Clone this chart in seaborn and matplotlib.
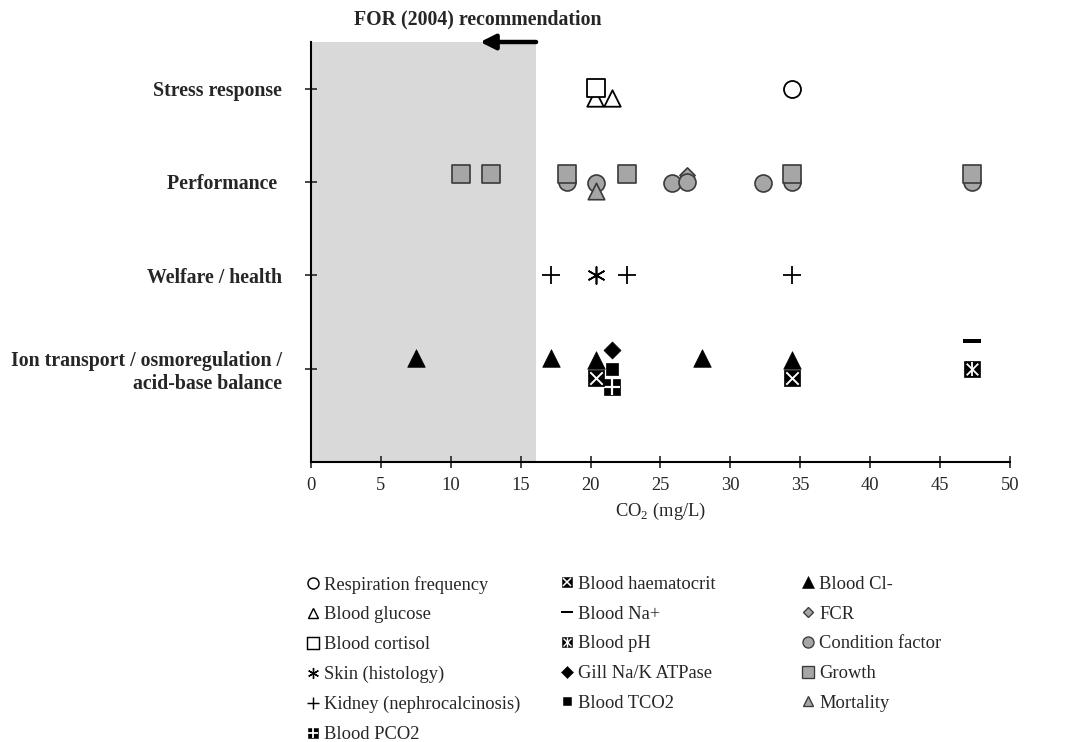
import seaborn as sns
import matplotlib.pyplot as plt
from matplotlib.lines import Line2D
from matplotlib.path import Path

# CO2 level (mg/L, read against the drawn axis) and vertical position
# (category level + small offset)
resp_x, resp_y = [34.4], [4.0]
glucose_x, glucose_y = [20.3, 21.5], [3.9, 3.9]
cortisol_x, cortisol_y = [20.4], [4.01]
skin_x, skin_y = [20.4], [2.0]
kidney_x, kidney_y = [17.2, 22.6, 34.4], [2.0, 2.0, 2.0]
pco2_x, pco2_y = [21.5], [0.8]
haemat_x, haemat_y = [20.4, 34.4], [0.9, 0.9]
na_x, na_y = [47.3], [1.3]
ph_x, ph_y = [47.3], [1.0]
gill_x, gill_y = [21.5], [1.2]
tco2_x, tco2_y = [21.5], [1.0]
cl_x, cl_y = [7.5, 17.2, 20.4, 27.95, 34.4], [1.11, 1.11, 1.09, 1.11, 1.09]
fcr_x, fcr_y = [26.9], [3.08]
cond_x, cond_y = [18.3, 20.4, 25.8, 26.9, 32.3, 34.4, 47.3], [3.0, 2.99, 2.99, 3.0, 2.99, 3.0, 3.0]
growth_x, growth_y = [10.75, 12.9, 18.3, 22.6, 34.4, 47.3], [3.09, 3.09, 3.09, 3.09, 3.09, 3.09]
mort_x, mort_y = [20.4], [2.9]

series_names = ['Respiration frequency', 'Blood glucose', 'Blood cortisol', 'Skin (histology)',
                'Kidney (nephrocalcinosis)', 'Blood PCO2', 'Blood haematocrit', 'Blood Na+',
                'Blood pH', 'Gill Na/K ATPase', 'Blood TCO2', 'Blood Cl-', 'FCR',
                'Condition factor', 'Growth', 'Mortality']
series_x = [resp_x, glucose_x, cortisol_x, skin_x, kidney_x, pco2_x, haemat_x, na_x,
            ph_x, gill_x, tco2_x, cl_x, fcr_x, cond_x, growth_x, mort_x]
series_y = [resp_y, glucose_y, cortisol_y, skin_y, kidney_y, pco2_y, haemat_y, na_y,
            ph_y, gill_y, tco2_y, cl_y, fcr_y, cond_y, growth_y, mort_y]

categories = ['Ion transport / osmoregulation /\nacid-base balance', 'Welfare / health',
              'Performance ', 'Stress response']
cat_levels = [1, 2, 3, 4]
x_ticks = [0, 5, 10, 15, 20, 25, 30, 35, 40, 45, 50]
shade_end = 16.1
arrow_from, arrow_to = 16.1, 12.1

GREY = '#a6a6a6'
EDGE = '#3a3a3a'
bar = Path([(-1, -0.22), (1, -0.22), (1, 0.22), (-1, 0.22), (-1, -0.22)],
           [Path.MOVETO, Path.LINETO, Path.LINETO, Path.LINETO, Path.CLOSEPOLY])
asterisk = (6, 2, 0)

# layers per series: (marker, size, face, edge, lw)
styles = {
    'Respiration frequency': [('o', 150, 'white', 'black', 1.3)],
    'Blood glucose': [('^', 140, 'white', 'black', 1.3)],
    'Blood cortisol': [('s', 160, 'white', 'black', 1.3)],
    'Skin (histology)': [(asterisk, 150, 'black', 'black', 1.2)],
    'Kidney (nephrocalcinosis)': [('+', 150, 'black', 'black', 1.3)],
    'Blood PCO2': [('s', 130, 'black', 'black', 0.5), ('+', 130, 'white', 'white', 1.6)],
    'Blood haematocrit': [('s', 130, 'black', 'black', 0.5), ('x', 80, 'white', 'white', 1.4)],
    'Blood Na+': [(bar, 170, 'black', 'black', 0)],
    'Blood pH': [('s', 130, 'black', 'black', 0.5), ('x', 70, 'white', 'white', 1.3),
                 ('|', 100, 'white', 'white', 1.3)],
    'Gill Na/K ATPase': [('D', 75, 'black', 'black', 0.5)],
    'Blood TCO2': [('s', 64, 'black', 'black', 0.5)],
    'Blood Cl-': [('^', 160, 'black', 'black', 0.5)],
    'FCR': [('D', 60, GREY, EDGE, 1.2)],
    'Condition factor': [('o', 150, GREY, EDGE, 1.2)],
    'Growth': [('s', 160, GREY, EDGE, 1.2)],
    'Mortality': [('^', 140, GREY, EDGE, 1.2)],
}

sns.set_style('white')
plt.rcParams['font.family'] = ['Liberation Serif', 'DejaVu Serif']
plt.rcParams['mathtext.fontset'] = 'custom'
plt.rcParams['mathtext.rm'] = 'Liberation Serif'

fig = plt.figure(figsize=(10.75, 7.42), dpi=100)
ax = fig.add_axes([0.2893, 0.3774, 0.6502, 0.566])

ax.axvspan(0, shade_end, color='#d9d9d9', lw=0, zorder=0)

for name, xs, ys in zip(series_names, series_x, series_y):
    for marker, size, face, edge, lw in styles[name]:
        sns.scatterplot(x=xs, y=ys, marker=marker, s=size, color=face,
                        edgecolor=edge, linewidth=lw, ax=ax, legend=False,
                        zorder=3, clip_on=False)

ax.set_xlim(0, 50)
ax.set_ylim(0, 4.5)
ax.set_xticks(x_ticks)
ax.set_xticklabels([str(t) for t in x_ticks], fontsize=13.3)
ax.set_yticks(cat_levels)
ax.set_yticklabels(categories, fontsize=14.3, fontweight='bold', ha='right',
                   multialignment='right')
ax.tick_params(axis='y', direction='inout', length=8, width=1.2, pad=17, left=True)
ax.tick_params(axis='x', direction='inout', length=8, width=1.2, pad=7, bottom=True)
ax.set_xlabel(r'CO$_\mathregular{2}$ (mg/L)', fontsize=13.3, labelpad=5)
ax.set_ylabel('')
sns.despine(ax=ax)
for side in ['left', 'bottom']:
    ax.spines[side].set_color('black')
    ax.spines[side].set_linewidth(1.5)

ax.annotate('', xy=(arrow_to, 4.5), xytext=(arrow_from, 4.5), annotation_clip=False,
            arrowprops=dict(arrowstyle='-|>,head_length=0.9,head_width=0.45',
                            mutation_scale=10, color='black', lw=3.2,
                            shrinkA=0, shrinkB=0))
ax.annotate('FOR (2004) recommendation', xy=(11.9, 4.5), xytext=(0, 16),
            textcoords='offset points', ha='center', va='center',
            fontsize=14.3, fontweight='bold', annotation_clip=False)

# legend: three columns placed like the original
handles = []
for name in series_names:
    parts = []
    for marker, size, face, edge, lw in styles[name]:
        ms = (size ** 0.5) * 0.65
        parts.append(Line2D([], [], linestyle='none', marker=marker, markersize=ms,
                            markerfacecolor=face, markeredgecolor=edge,
                            markeredgewidth=lw * 0.8))
    handles.append(tuple(parts) if len(parts) > 1 else parts[0])

col_slices = [(0, 6), (6, 11), (11, 16)]
col_x = [0.2842, 0.5205, 0.7447]
for (a, b), x0 in zip(col_slices, col_x):
    fig.legend(handles[a:b], series_names[a:b], loc='upper left',
               bbox_to_anchor=(x0, 0.2240), frameon=False, fontsize=13.3,
               handlelength=0.8, handletextpad=0.2, labelspacing=0.69,
               borderpad=0, borderaxespad=0)

fig.savefig('out.png', dpi=100)
